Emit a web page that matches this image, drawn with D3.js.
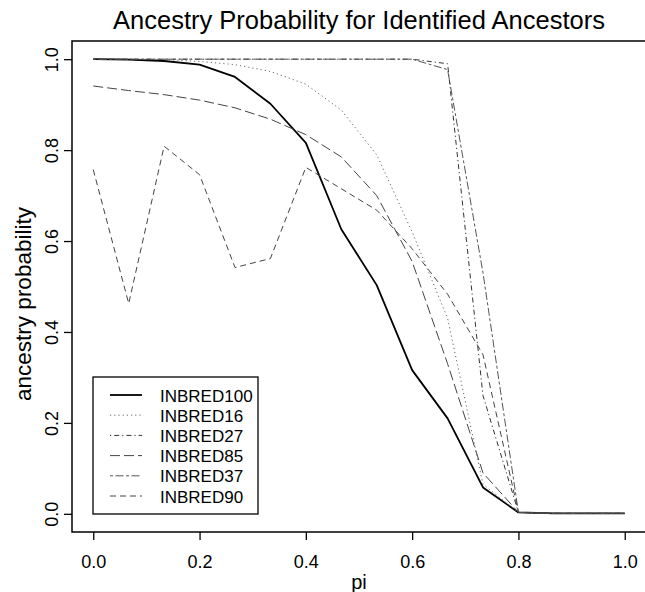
<!DOCTYPE html>
<html>
<head>
<meta charset="utf-8">
<script src="https://cdn.jsdelivr.net/npm/d3@7"></script>
<style>
html,body{margin:0;padding:0;background:#fff;}
svg{display:block;}
text{font-family:"Liberation Sans",Arial,Helvetica,sans-serif;fill:#000;}
</style>
</head>
<body>
<svg id="chart" width="645" height="592"></svg>
<script>
const piValues = [0, 0.0667, 0.1333, 0.2, 0.2667, 0.3333, 0.4, 0.4667, 0.5333, 0.6, 0.6667, 0.7333, 0.8, 0.8667, 0.9333, 1.0];
const inbred100 = [1.0, 0.999, 0.996, 0.988, 0.961, 0.902, 0.816, 0.626, 0.503, 0.316, 0.21, 0.058, 0.003, 0.001, 0.001, 0.001];
const inbred16  = [1.0, 1.0, 0.999, 0.995, 0.988, 0.973, 0.945, 0.888, 0.79, 0.62, 0.43, 0.065, 0.003, 0.001, 0.001, 0.001];
const inbred27  = [1.0, 1.0, 1.0, 1.0, 1.0, 1.0, 1.0, 1.0, 1.0, 1.0, 0.99, 0.26, 0.003, 0.001, 0.001, 0.001];
const inbred85  = [0.941, 0.931, 0.922, 0.91, 0.893, 0.868, 0.834, 0.785, 0.70, 0.555, 0.33, 0.09, 0.003, 0.001, 0.001, 0.001];
const inbred37  = [1.0, 1.0, 1.0, 1.0, 1.0, 1.0, 1.0, 1.0, 1.0, 1.0, 0.977, 0.53, 0.003, 0.001, 0.001, 0.001];
const inbred90  = [0.757, 0.4625, 0.8085, 0.746, 0.5417, 0.5615, 0.762, 0.715, 0.668, 0.583, 0.483, 0.35, 0.003, 0.001, 0.001, 0.001];
const seriesNames = ["INBRED100", "INBRED16", "INBRED27", "INBRED85", "INBRED37", "INBRED90"];
const xTicks = [0, 0.2, 0.4, 0.6, 0.8, 1.0];
const yTicks = [0, 0.2, 0.4, 0.6, 0.8, 1.0];
const titleText = "Ancestry Probability for Identified Ancestors";
const xLabel = "pi";
const yLabel = "ancestry probability";

const seriesValues = [inbred100, inbred16, inbred27, inbred85, inbred37, inbred90];
const styles = [
  {stroke:"#000", width:1.8, dash:null},
  {stroke:"#666", width:1, dash:"1.2,3"},
  {stroke:"#333", width:1, dash:"1.2,3,5,3"},
  {stroke:"#444", width:1, dash:"10,4"},
  {stroke:"#555", width:1, dash:"3,2.5,8,2.5"},
  {stroke:"#444", width:1, dash:"6,4"}
];

const svg = d3.select("#chart");
const pLeft = 72, pRight = 646, pTop = 41, pBottom = 532;
const x = d3.scaleLinear().domain([-0.04, 1.04]).range([pLeft, pRight]);
const y = d3.scaleLinear().domain([-0.04, 1.04]).range([pBottom, pTop]);

// lines
const line = d3.line().x(d => x(d[0])).y(d => y(d[1]));
seriesValues.forEach((vals, i) => {
  const pts = piValues.map((p, j) => [p, vals[j]]);
  const st = styles[i];
  svg.append("path")
    .attr("d", line(pts))
    .attr("fill", "none")
    .attr("stroke", st.stroke)
    .attr("stroke-width", st.width)
    .attr("stroke-dasharray", st.dash)
    .attr("stroke-linejoin", "round");
});

// box
svg.append("rect").attr("x", pLeft).attr("y", pTop)
  .attr("width", pRight - pLeft).attr("height", pBottom - pTop)
  .attr("fill", "none").attr("stroke", "#000").attr("stroke-width", 1.5);

// x axis
const xAxis = d3.axisBottom(x).tickValues(xTicks).tickFormat(d3.format(".1f")).tickSizeOuter(0).tickSizeInner(8).tickPadding(15);
const gx = svg.append("g").attr("transform", `translate(0,${pBottom})`).call(xAxis);
gx.select(".domain").remove();
gx.selectAll(".tick line").attr("stroke", "#000").attr("stroke-width", 1.3);
gx.selectAll(".tick text").attr("font-size", 18).attr("font-family", "Liberation Sans").attr("fill", "#000");

// y axis
const yAxis = d3.axisLeft(y).tickValues(yTicks).tickFormat(d3.format(".1f")).tickSizeOuter(0).tickSizeInner(8).tickPadding(6);
const gy = svg.append("g").attr("transform", `translate(${pLeft},0)`).call(yAxis);
gy.select(".domain").remove();
gy.selectAll(".tick line").attr("stroke", "#000").attr("stroke-width", 1.3);
gy.selectAll(".tick text")
  .attr("font-size", 18).attr("font-family", "Liberation Sans").attr("fill", "#000")
  .attr("x", null).attr("dy", null)
  .attr("text-anchor", "middle")
  .attr("transform", "translate(-14,0) rotate(-90)");

// title
svg.append("text").attr("x", (pLeft + pRight) / 2).attr("y", 29)
  .attr("text-anchor", "middle").attr("font-size", 25.5).text(titleText);
// x label
svg.append("text").attr("x", (pLeft + pRight) / 2).attr("y", 589)
  .attr("text-anchor", "middle").attr("font-size", 20).text(xLabel);
// y label
svg.append("text").attr("transform", `translate(31,304) rotate(-90)`)
  .attr("text-anchor", "middle").attr("font-size", 22.5).text(yLabel);

// legend
const lg = svg.append("g");
lg.append("rect").attr("x", 93).attr("y", 377).attr("width", 165).attr("height", 137)
  .attr("fill", "#fff").attr("stroke", "#000").attr("stroke-width", 1.3);
seriesNames.forEach((name, i) => {
  const cy = 395 + i * 20.2;
  const st = styles[i];
  lg.append("line").attr("x1", 110).attr("x2", 142).attr("y1", cy).attr("y2", cy)
    .attr("stroke", st.stroke).attr("stroke-width", st.width).attr("stroke-dasharray", st.dash);
  lg.append("text").attr("x", 160).attr("y", cy + 6.5).attr("font-size", 17).text(name);
});
</script>
</body>
</html>
